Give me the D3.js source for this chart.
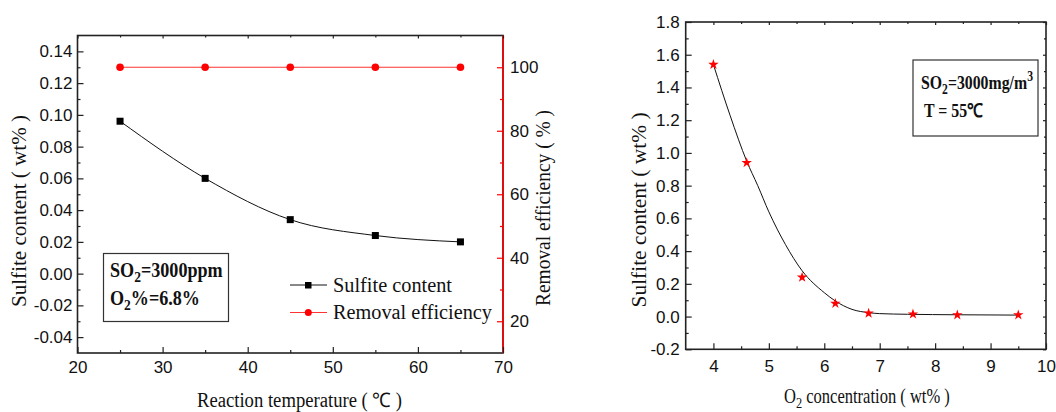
<!DOCTYPE html>
<html>
<head>
<meta charset="utf-8">
<script src="https://cdn.jsdelivr.net/npm/d3@7"></script>
<style>
  body { margin: 0; background: #fff; }
  svg { display: block; }
  .tick text { font-family: "Liberation Sans", Arial, sans-serif; font-size: 17px; fill: #111; }
  .serif { font-family: "Liberation Serif", "Times New Roman", serif; fill: #111; }
</style>
</head>
<body>
<script>
// left panel: effect of temperature
const tempC = [25, 35, 45, 55, 65]
const sulfiteByTemp = [0.096, 0.060, 0.034, 0.024, 0.020]
const removalEff = [100, 100, 100, 100, 100]

// right panel: effect of O2
const o2Conc = [4, 4.6, 5.6, 6.2, 6.8, 7.6, 8.4, 9.5]
const sulfiteByO2 = [1.54, 0.94, 0.24, 0.08, 0.02, 0.015, 0.01, 0.01]
// fitted line
const fitO2 = [4, 4.3, 4.6, 4.8, 5, 5.3, 5.6, 6, 6.2, 6.5, 6.8, 7, 7.5, 8.4, 9.5]
const fitSulfite = [1.54, 1.23, 0.95, 0.80, 0.64, 0.44, 0.28, 0.146, 0.095, 0.044, 0.024, 0.018, 0.014, 0.011, 0.009]

// tick labels
const tempTicks = [20, 30, 40, 50, 60, 70]
const sulfiteTicks = [-0.04, -0.02, 0, 0.02, 0.04, 0.06, 0.08, 0.10, 0.12, 0.14]
const effTicks = [20, 40, 60, 80, 100]
const o2Ticks = [4, 5, 6, 7, 8, 9, 10]
const sulfiteO2Ticks = [-0.2, 0, 0.2, 0.4, 0.6, 0.8, 1.0, 1.2, 1.4, 1.6, 1.8]

const svg = d3.select("body").append("svg")
  .attr("width", 1056)
  .attr("height", 412)

svg.append("rect").attr("width", 1056).attr("height", 412).attr("fill", "#fff")

function drawAxis(gen, tr, color) {
  const g = svg.append("g").attr("transform", tr).call(gen)
  g.select(".domain").remove()
  g.selectAll(".tick line").attr("stroke", color).attr("stroke-width", 1.2)
  return g
}

// small helper for mirrored / minor ticks without labels
function ticksOnly(axisFn, scale, values, size, tr, color) {
  drawAxis(axisFn(scale).tickValues(values).tickFormat("").tickSizeInner(-size).tickSizeOuter(0), tr, color)
}

// squeeze a text (with sub/superscripts) horizontally to the width seen in the picture
function squeeze(t, x, y, w) {
  const bw = t.node().getBBox().width
  t.attr("transform", `translate(${x},${y}) scale(${w / bw},1)`)
}

// ---------- left panel ----------
const L = { left: 77.5, right: 503, top: 35.5, bottom: 353 }

const xT = d3.scaleLinear().domain([20, 70]).range([L.left, L.right])
const yS = d3.scaleLinear().domain([-0.05, 0.15]).range([L.bottom, L.top])
const yE = d3.scaleLinear().domain([10, 110]).range([L.bottom, L.top])

svg.append("rect")
  .attr("x", L.left).attr("y", L.top)
  .attr("width", L.right - L.left).attr("height", L.bottom - L.top)
  .attr("fill", "none").attr("stroke", "#222").attr("stroke-width", 1.6)
svg.append("line")
  .attr("x1", L.right).attr("x2", L.right).attr("y1", L.top).attr("y2", L.bottom)
  .attr("stroke", "#f00").attr("stroke-width", 1.6)

drawAxis(d3.axisBottom(xT).tickValues(tempTicks).tickFormat(d3.format("d"))
  .tickSizeInner(-6).tickSizeOuter(0).tickPadding(8), `translate(0,${L.bottom})`, "#222")
ticksOnly(d3.axisBottom, xT, d3.range(25, 70, 10), 3, `translate(0,${L.bottom})`, "#222")
ticksOnly(d3.axisTop, xT, tempTicks, 3, `translate(0,${L.top})`, "#222")
ticksOnly(d3.axisTop, xT, d3.range(25, 70, 10), 2, `translate(0,${L.top})`, "#222")

drawAxis(d3.axisLeft(yS).tickValues(sulfiteTicks).tickFormat(d => d.toFixed(2))
  .tickSizeInner(-6).tickSizeOuter(0).tickPadding(5), `translate(${L.left},0)`, "#222")
ticksOnly(d3.axisLeft, yS, d3.range(-0.03, 0.15, 0.02), 3, `translate(${L.left},0)`, "#222")

drawAxis(d3.axisRight(yE).tickValues(effTicks).tickFormat(d3.format("d"))
  .tickSizeInner(-6).tickSizeOuter(0).tickPadding(7), `translate(${L.right},0)`, "#f00")
ticksOnly(d3.axisRight, yE, [30, 50, 70, 90], 3, `translate(${L.right},0)`, "#f00")

// series lines
const lineT = d3.line().x(d => xT(d[0])).y(d => yS(d[1])).curve(d3.curveMonotoneX)
svg.append("path")
  .attr("d", lineT(d3.zip(tempC, sulfiteByTemp)))
  .attr("fill", "none").attr("stroke", "#111").attr("stroke-width", 1)

const lineE = d3.line().x(d => xT(d[0])).y(d => yE(d[1]))
svg.append("path")
  .attr("d", lineE(d3.zip(tempC, removalEff)))
  .attr("fill", "none").attr("stroke", "#f33").attr("stroke-width", 1.2)

svg.append("g").selectAll("rect")
  .data(d3.zip(tempC, sulfiteByTemp))
  .join("rect")
  .attr("x", d => xT(d[0]) - 3.5).attr("y", d => yS(d[1]) - 3.5)
  .attr("width", 7).attr("height", 7).attr("fill", "#000")

svg.append("g").selectAll("circle")
  .data(d3.zip(tempC, removalEff))
  .join("circle")
  .attr("cx", d => xT(d[0])).attr("cy", d => yE(d[1]))
  .attr("r", 3.8).attr("fill", "#f00")

// axis titles
svg.append("text").attr("class", "serif")
  .attr("x", 197).attr("y", 407).attr("font-size", 20)
  .attr("textLength", 205).attr("lengthAdjust", "spacingAndGlyphs")
  .text("Reaction temperature ( \u2103 )")

svg.append("text").attr("class", "serif")
  .attr("transform", "translate(26,211) rotate(-90)")
  .attr("text-anchor", "middle").attr("font-size", 20)
  .attr("textLength", 192).attr("lengthAdjust", "spacingAndGlyphs")
  .text("Sulfite content ( wt% )")

svg.append("text").attr("class", "serif")
  .attr("transform", "translate(550,208) rotate(-90)")
  .attr("text-anchor", "middle").attr("font-size", 20)
  .attr("textLength", 196).attr("lengthAdjust", "spacingAndGlyphs")
  .text("Removal efficiency ( % )")

// condition box
svg.append("rect")
  .attr("x", 103.5).attr("y", 253.5).attr("width", 125).attr("height", 68)
  .attr("fill", "none").attr("stroke", "#333").attr("stroke-width", 1.2)

const t1 = svg.append("text").attr("class", "serif").attr("font-weight", "bold").attr("font-size", 20)
t1.append("tspan").text("SO")
t1.append("tspan").attr("dy", 5).attr("font-size", 15).text("2")
t1.append("tspan").attr("dy", -5).text("=3000ppm")
squeeze(t1, 110, 277, 113)

const t2 = svg.append("text").attr("class", "serif").attr("font-weight", "bold").attr("font-size", 20)
t2.append("tspan").text("O")
t2.append("tspan").attr("dy", 5).attr("font-size", 15).text("2")
t2.append("tspan").attr("dy", -5).text("%=6.8%")
squeeze(t2, 110, 305, 90)

// legend
const legend = svg.append("g")
legend.append("line").attr("x1", 290).attr("x2", 327).attr("y1", 285).attr("y2", 285)
  .attr("stroke", "#111").attr("stroke-width", 1)
legend.append("rect").attr("x", 305).attr("y", 282).attr("width", 6.5).attr("height", 6.5).attr("fill", "#000")
legend.append("text").attr("class", "serif").attr("x", 333).attr("y", 292)
  .attr("font-size", 20).attr("textLength", 119).attr("lengthAdjust", "spacingAndGlyphs")
  .text("Sulfite content")
legend.append("line").attr("x1", 290).attr("x2", 327).attr("y1", 312.5).attr("y2", 312.5)
  .attr("stroke", "#f33").attr("stroke-width", 1.2)
legend.append("circle").attr("cx", 308.3).attr("cy", 312.5).attr("r", 3.5).attr("fill", "#f00")
legend.append("text").attr("class", "serif").attr("x", 333).attr("y", 318.5)
  .attr("font-size", 20).attr("textLength", 159).attr("lengthAdjust", "spacingAndGlyphs")
  .text("Removal efficiency")

// ---------- right panel ----------
const R = { left: 685.7, right: 1046, top: 22, bottom: 349.3 }

const xO = d3.scaleLinear().domain([3.5, 10]).range([R.left, R.right])
const yO = d3.scaleLinear().domain([-0.2, 1.8]).range([R.bottom, R.top])

svg.append("rect")
  .attr("x", R.left).attr("y", R.top)
  .attr("width", R.right - R.left).attr("height", R.bottom - R.top)
  .attr("fill", "none").attr("stroke", "#222").attr("stroke-width", 1.6)

drawAxis(d3.axisBottom(xO).tickValues(o2Ticks).tickFormat(d3.format("d"))
  .tickSizeInner(-6).tickSizeOuter(0).tickPadding(11), `translate(0,${R.bottom})`, "#222")
ticksOnly(d3.axisBottom, xO, d3.range(4.5, 10, 1), 3, `translate(0,${R.bottom})`, "#222")
ticksOnly(d3.axisTop, xO, o2Ticks, 3, `translate(0,${R.top})`, "#222")
ticksOnly(d3.axisTop, xO, d3.range(4.5, 10, 1), 2, `translate(0,${R.top})`, "#222")

drawAxis(d3.axisLeft(yO).tickValues(sulfiteO2Ticks).tickFormat(d => d.toFixed(1))
  .tickSizeInner(-6).tickSizeOuter(0).tickPadding(6), `translate(${R.left},0)`, "#222")
ticksOnly(d3.axisLeft, yO, d3.range(-0.1, 1.8, 0.2), 3, `translate(${R.left},0)`, "#222")
ticksOnly(d3.axisRight, yO, sulfiteO2Ticks, 3, `translate(${R.right},0)`, "#222")
ticksOnly(d3.axisRight, yO, d3.range(-0.1, 1.8, 0.2), 2, `translate(${R.right},0)`, "#222")

const lineO = d3.line().x(d => xO(d[0])).y(d => yO(d[1])).curve(d3.curveMonotoneX)
svg.append("path")
  .attr("d", lineO(d3.zip(fitO2, fitSulfite)))
  .attr("fill", "none").attr("stroke", "#111").attr("stroke-width", 1)

svg.append("g").selectAll("path")
  .data(d3.zip(o2Conc, sulfiteByO2))
  .join("path")
  .attr("d", d3.symbol(d3.symbolStar, 34))
  .attr("transform", d => `translate(${xO(d[0])},${yO(d[1])})`)
  .attr("fill", "#f00")

svg.append("text").attr("class", "serif")
  .attr("transform", "translate(646,210) rotate(-90)")
  .attr("text-anchor", "middle").attr("font-size", 20)
  .attr("textLength", 195).attr("lengthAdjust", "spacingAndGlyphs")
  .text("Sulfite content ( wt% )")

const tx = svg.append("text").attr("class", "serif").attr("font-size", 20)
tx.append("tspan").text("O")
tx.append("tspan").attr("dy", 5).attr("font-size", 15).text("2")
tx.append("tspan").attr("dy", -5).text(" concentration ( wt% )")
squeeze(tx, 784, 403, 166)

svg.append("rect")
  .attr("x", 913).attr("y", 60).attr("width", 125).attr("height", 76)
  .attr("fill", "none").attr("stroke", "#333").attr("stroke-width", 1.2)

const t3 = svg.append("text").attr("class", "serif").attr("font-weight", "bold").attr("font-size", 19)
t3.append("tspan").text("SO")
t3.append("tspan").attr("dy", 5).attr("font-size", 14).text("2")
t3.append("tspan").attr("dy", -5).text("=3000mg/m")
t3.append("tspan").attr("dy", -8).attr("font-size", 14).text("3")
squeeze(t3, 921, 89, 112)

svg.append("text").attr("class", "serif").attr("font-weight", "bold")
  .attr("x", 924).attr("y", 117).attr("font-size", 19)
  .attr("textLength", 59).attr("lengthAdjust", "spacingAndGlyphs")
  .text("T = 55\u2103")
</script>
</body>
</html>
